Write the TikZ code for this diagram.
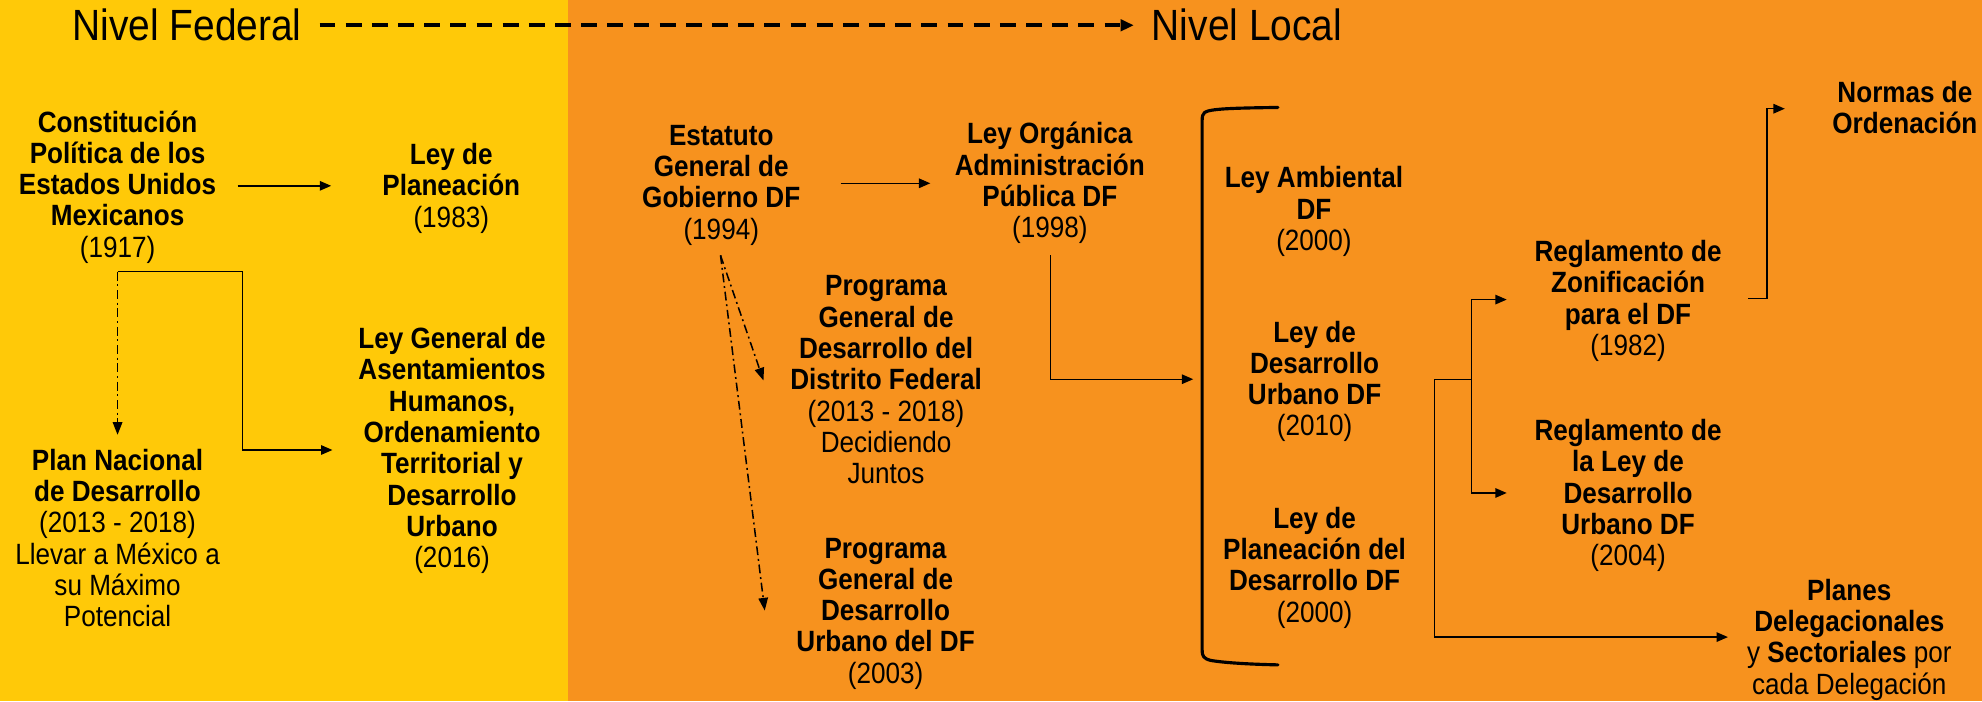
\documentclass[tikz,border=0pt]{standalone}
\usepackage{fontspec}
\setmainfont{Liberation Sans}[FakeStretch=0.89]
\usetikzlibrary{arrows.meta}
\definecolor{fedyellow}{RGB}{255,201,8}
\definecolor{locorange}{RGB}{247,146,30}
\newcommand{\blkfont}{\fontsize{23.2}{24.75}\selectfont}
\newcommand{\hdrfont}{\fontsize{34.6}{38}\selectfont}
\begin{document}
\begin{tikzpicture}[x=1pt,y=-1pt,
  txt/.style={align=center,inner sep=0pt,font=\blkfont},
  hdr/.style={inner sep=0pt,font=\hdrfont,anchor=west},
  conn/.style={line width=1.1pt,-{Triangle[length=9pt,width=7.5pt]}},
  plainline/.style={line width=1.1pt},
  dotarr/.style={line width=1.2pt,dash pattern=on 7pt off 3pt on 1.5pt off 3pt,-{Triangle[length=10pt,width=7.5pt]}},
  hdrarrow/.style={line width=3pt,dash pattern=on 12.5pt off 8.2pt,-{Triangle[length=10.5pt,width=9pt]}},
  brk/.style={line width=2.5pt,line cap=round,line join=round}]
\useasboundingbox (0,0) rectangle (1568,554.6);
\fill[fedyellow] (0,0) rectangle (449,554.6);
\fill[locorange] (449,0) rectangle (1568,554.6);

% headers
\node[hdr] (fed) at (57,20) {Nivel Federal};
\node[hdr] (loc) at (911,20) {Nivel Local};
\draw[hdrarrow] ([xshift=14pt]fed.east) -- ([xshift=-14pt]loc.west);

% federal nodes
\node[txt] (A) at (93,149) {\strut\textbf{Constitución}\\\textbf{Política de los}\\\textbf{Estados Unidos}\\\textbf{Mexicanos}\\(1917)\strut};
\node[txt] (B) at (357,150) {\strut\textbf{Ley de}\\\textbf{Planeación}\\(1983)\strut};
\node[txt] (C) at (93,429) {\strut\textbf{Plan Nacional}\\\textbf{de Desarrollo}\\(2013 - 2018)\\Llevar a México a\\su Máximo\\Potencial\strut};
\node[txt] (D) at (357.6,357.5) {\strut\textbf{Ley General de}\\\textbf{Asentamientos}\\\textbf{Humanos,}\\\textbf{Ordenamiento}\\\textbf{Territorial y}\\\textbf{Desarrollo}\\\textbf{Urbano}\\(2016)\strut};

% local nodes
\node[txt] (E) at (570.6,147) {\strut\textbf{Estatuto}\\\textbf{General de}\\\textbf{Gobierno DF}\\(1994)\strut};
\node[txt] (F) at (830.5,146) {\strut\textbf{Ley Orgánica}\\\textbf{Administración}\\\textbf{Pública DF}\\(1998)\strut};
\node[txt] (G) at (701,303.4) {\strut\textbf{Programa}\\\textbf{General de}\\\textbf{Desarrollo del}\\\textbf{Distrito Federal}\\(2013 - 2018)\\Decidiendo\\Juntos\strut};
\node[txt] (H) at (700.6,486) {\strut\textbf{Programa}\\\textbf{General de}\\\textbf{Desarrollo}\\\textbf{Urbano del DF}\\(2003)\strut};
\node[txt] (I) at (1039.5,168.5) {\strut\textbf{Ley Ambiental}\\\textbf{DF}\\(2000)\strut};
\node[txt] (J) at (1040,302.8) {\strut\textbf{Ley de}\\\textbf{Desarrollo}\\\textbf{Urbano DF}\\(2010)\strut};
\node[txt] (K) at (1040,450) {\strut\textbf{Ley de}\\\textbf{Planeación del}\\\textbf{Desarrollo DF}\\(2000)\strut};
\node[txt] (L) at (1288,239) {\strut\textbf{Reglamento de}\\\textbf{Zonificación}\\\textbf{para el DF}\\(1982)\strut};
\node[txt] (M) at (1288,393) {\strut\textbf{Reglamento de}\\\textbf{la Ley de}\\\textbf{Desarrollo}\\\textbf{Urbano DF}\\(2004)\strut};
\node[txt] (N) at (1507,88.4) {\strut\textbf{Normas de}\\\textbf{Ordenación}\strut};
\node[txt] (O) at (1463,507) {\strut\textbf{Planes}\\\textbf{Delegacionales}\\y \textbf{Sectoriales} por\\cada Delegación\strut};

% connector points
\coordinate (a1) at (188,147);
\coordinate (b1) at (262,147);
\coordinate (a2) at (93,215);
\coordinate (a3) at (192,215);
\coordinate (d1) at (263,356);
\coordinate (c1) at (93,344);
\coordinate (e1) at (665,145);
\coordinate (f1) at (736,145);
\coordinate (f2) at (831,202);
\coordinate (j1) at (944,300);
\coordinate (e2) at (570,202);
\coordinate (g1) at (604,301);
\coordinate (h1) at (605,483);
\coordinate (j2) at (1135,300);
\coordinate (j3) at (1164,300);
\coordinate (l1) at (1192,237);
\coordinate (m1) at (1192,390);
\coordinate (o1) at (1367,504);
\coordinate (l2) at (1383,236);
\coordinate (l3) at (1398,236);
\coordinate (n1) at (1412,86);

% federal connectors
\draw[conn] (a1) -- (b1);
\draw[conn] (a2) -- (a3) -- (a3 |- d1) -- (d1);
\draw[dotarr] (a2) -- (c1);

% local connectors
\draw[conn] (e1) -- (f1);
\draw[conn] (f2) |- (j1);
\draw[dotarr] (e2) -- (g1);
\draw[dotarr] (e2) -- (h1);
\draw[plainline] (j2) -- (j3);
\draw[conn] (j3) |- (l1);
\draw[conn] (j3) |- (m1);
\draw[conn] (j2) |- (o1);
\draw[conn] (l2) -- (l3) |- (n1);

% bracket
\draw[brk] (1011,85) .. controls (975,85.5) and (957,86) .. (953,89) .. controls (951.5,90) and (951,92) .. (951,96)
  -- (951,514) .. controls (951,519) and (952,521) .. (958,522.5) .. controls (970,524.5) and (990,525.5) .. (1011,526);
\end{tikzpicture}
\end{document}
